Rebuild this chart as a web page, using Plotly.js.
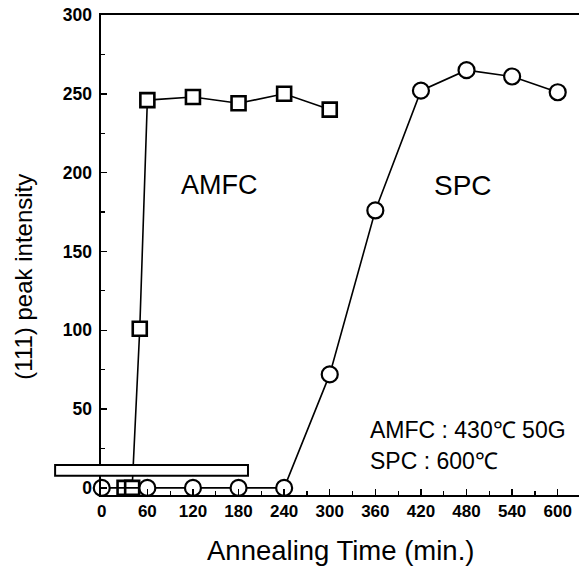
<!DOCTYPE html>
<html><head><meta charset="utf-8">
<script src="https://cdn.plot.ly/plotly-3.0.1.min.js"></script>
<style>body{margin:0;background:#fff}#c{width:579px;height:568px}</style>
</head><body><div id="c"></div>
<script>
const amfcTime = [30, 40, 50, 60, 120, 180, 240, 300];
const amfcIntensity = [0, 0, 101, 246, 248, 244, 250, 240];
const spcTime = [0, 60, 120, 180, 240, 300, 360, 420, 480, 540, 600];
const spcIntensity = [0, 0, 0, 0, 0, 72, 176, 252, 265, 261, 251];
const xTicks = [0, 60, 120, 180, 240, 300, 360, 420, 480, 540, 600];
const yTicks = [0, 50, 100, 150, 200, 250, 300];

const FONT = 'Liberation Sans, Arial, sans-serif';
const traces = [
  {x: amfcTime, y: amfcIntensity, mode: 'lines+markers', cliponaxis: false,
   line: {color: '#000', width: 1.6},
   marker: {symbol: 'square', size: 14, color: '#fff', line: {width: 2.6, color: '#000'}}},
  {x: spcTime, y: spcIntensity, mode: 'lines+markers', cliponaxis: false,
   line: {color: '#000', width: 1.6},
   marker: {symbol: 'circle', size: 16, color: '#fff', line: {width: 2.2, color: '#000'}}}
];

const layout = {
  width: 579, height: 568,
  margin: {l: 101, r: 0, t: 15, b: 73},
  paper_bgcolor: '#fff', plot_bgcolor: '#fff',
  showlegend: false,
  font: {family: FONT, color: '#000'},
  xaxis: {
    range: [-1, 628], tickvals: xTicks, ticktext: xTicks.map(String),
    ticks: 'inside', ticklen: 6, tickwidth: 1.5, tickcolor: '#000',
    minor: {dtick: 30, ticks: 'inside', ticklen: 4, tickcolor: '#000', tickwidth: 1.2, tick0: 0},
    showline: true, linecolor: '#000', linewidth: 2, mirror: true,
    showgrid: false, zeroline: false,
    tickfont: {size: 17, family: FONT, weight: 'bold'}
  },
  yaxis: {
    range: [-4.5, 300], tickvals: yTicks, ticktext: yTicks.map(String),
    ticks: 'inside', ticklen: 6, tickwidth: 1.5, tickcolor: '#000',
    minor: {dtick: 25, ticks: 'inside', ticklen: 4, tickcolor: '#000', tickwidth: 1.2, tick0: 0},
    showline: true, linecolor: '#000', linewidth: 2.5, mirror: false,
    showgrid: false, zeroline: false, ticklabelstandoff: 3,
    tickfont: {size: 17.5, family: FONT, weight: 'bold'}
  },
  shapes: [
    {type: 'rect', xref: 'paper', yref: 'paper', x0: -0.096, x1: 0.3075, y0: 0.040, y1: 0.0625,
     line: {color: '#000', width: 2}, fillcolor: '#fff', layer: 'above'}
  ],
  annotations: [
    {x: 0.5, y: -0.1146, xref: 'paper', yref: 'paper', xanchor: 'center', yanchor: 'middle',
     text: 'Annealing Time (min.)', showarrow: false, font: {size: 27.5, family: FONT}},
    {x: -0.161, y: 0.455, xref: 'paper', yref: 'paper', xanchor: 'center', yanchor: 'middle',
     text: '(111) peak intensity', textangle: -90, showarrow: false, font: {size: 24, family: FONT}},
    {x: 155, y: 192, xref: 'x', yref: 'y', text: 'AMFC', showarrow: false, font: {size: 27, family: FONT}},
    {x: 476, y: 192, xref: 'x', yref: 'y', text: 'SPC', showarrow: false, font: {size: 28, family: FONT}},
    {x: 350, y: 37, xref: 'x', yref: 'y', text: 'AMFC : 430℃ 50G', xanchor: 'left', yanchor: 'middle', showarrow: false, font: {size: 23, family: FONT}},
    {x: 350, y: 17, xref: 'x', yref: 'y', text: 'SPC : 600℃', xanchor: 'left', yanchor: 'middle', showarrow: false, font: {size: 23, family: FONT}}
  ]
};
Plotly.newPlot('c', traces, layout, {displayModeBar: false, staticPlot: true});
</script></body></html>
